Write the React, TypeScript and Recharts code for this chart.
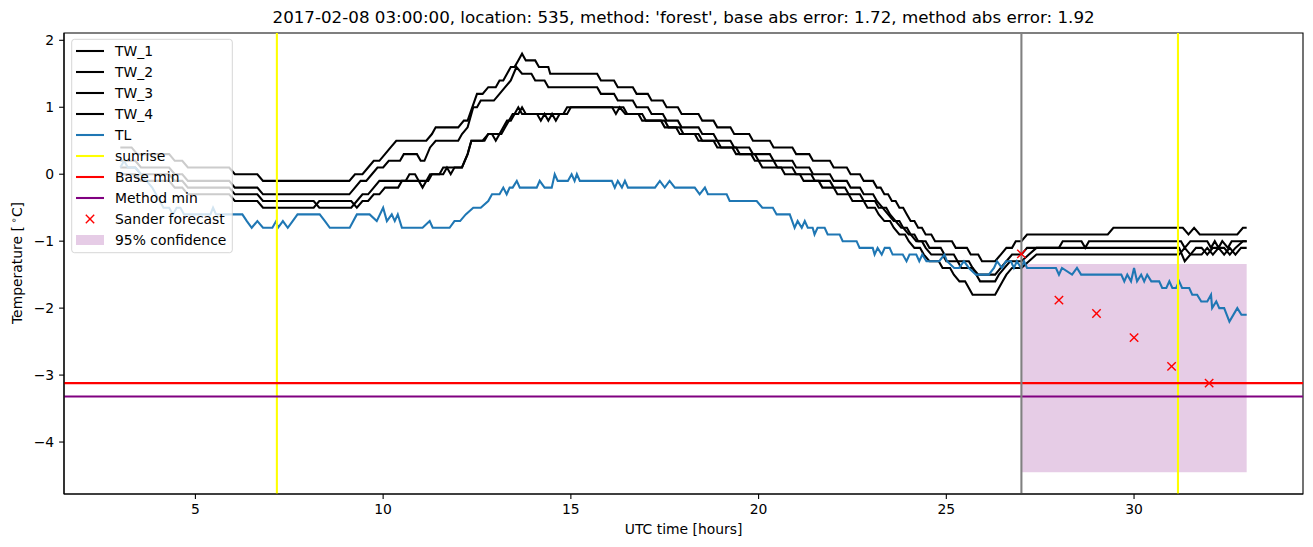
import { ComposedChart, Line, Scatter, XAxis, YAxis, ReferenceLine, ReferenceArea } from "recharts";

const FONT = "'DejaVu Sans', sans-serif";
const LW = 2.08;

// [hour, °C] readings, 10-minute sensor steps
const tw1: [number, number][] = [
  [3.0, 0.4], [3.3, 0.4], [3.45, 0.3], [4.3, 0.3], [4.45, 0.2], [4.65, 0.2], [4.8, 0.1], [5.9, 0.1], [6.05, 0.0], [6.65, 0.0],
  [6.8, -0.1], [9.1, -0.1], [9.25, 0.0], [9.45, 0.0], [9.6, 0.1], [9.75, 0.2], [9.9, 0.2], [10.05, 0.3], [10.2, 0.4], [10.35, 0.5],
  [11.15, 0.5], [11.3, 0.6], [11.4, 0.7], [12.0, 0.7], [12.15, 0.8], [12.25, 0.8], [12.5, 1.2], [12.65, 1.2], [12.8, 1.3], [13.0, 1.3],
  [13.1, 1.4], [13.2, 1.4], [13.3, 1.5], [13.4, 1.6], [13.5, 1.6], [13.6, 1.7], [13.7, 1.8], [13.8, 1.7], [14.05, 1.7], [14.15, 1.6],
  [14.4, 1.6], [14.45, 1.5], [15.7, 1.5], [15.8, 1.4], [16.15, 1.4], [16.25, 1.3], [16.65, 1.3], [16.75, 1.2], [17.05, 1.2], [17.15, 1.1],
  [17.45, 1.1], [17.55, 1.0], [17.85, 1.0], [17.95, 0.9], [18.4, 0.9], [18.5, 0.8], [18.8, 0.8], [18.9, 0.7], [19.25, 0.7], [19.35, 0.6],
  [19.75, 0.6], [19.85, 0.5], [20.3, 0.5], [20.4, 0.4], [20.9, 0.4], [21.0, 0.3], [21.35, 0.3], [21.45, 0.2], [21.9, 0.2], [22.0, 0.1],
  [22.35, 0.1], [22.45, 0.0], [22.7, 0.0], [22.8, -0.1], [23.05, -0.1], [23.15, -0.2], [23.25, -0.2], [23.35, -0.3], [23.45, -0.3], [23.55, -0.4],
  [23.65, -0.4], [23.75, -0.5], [23.85, -0.5], [23.95, -0.6], [24.05, -0.7], [24.15, -0.7], [24.25, -0.8], [24.35, -0.8], [24.45, -0.9], [24.6, -0.9],
  [24.7, -1.0], [25.15, -1.0], [25.25, -1.1], [25.55, -1.1], [25.65, -1.2], [25.85, -1.2], [25.95, -1.3], [26.3, -1.3], [26.45, -1.2], [26.6, -1.1],
  [26.75, -1.1], [26.85, -1.0], [27.0, -1.0], [27.15, -0.9], [29.3, -0.9], [29.45, -0.8], [31.3, -0.8], [31.45, -0.9], [31.6, -0.8], [31.75, -0.9],
  [32.75, -0.9], [32.9, -0.8], [33.0, -0.8],
];

const tw2: [number, number][] = [
  [3.0, 0.2], [3.4, 0.2], [3.55, 0.1], [4.3, 0.1], [4.45, 0.0], [4.65, 0.0], [4.8, -0.1], [5.9, -0.1], [6.05, -0.2], [6.65, -0.2],
  [6.8, -0.3], [9.1, -0.3], [9.25, -0.2], [9.4, -0.1], [9.55, -0.1], [9.7, 0.0], [9.85, 0.1], [10.0, 0.1], [10.15, 0.2], [10.45, 0.2],
  [10.55, 0.3], [10.9, 0.3], [11.0, 0.2], [11.1, 0.2], [11.25, 0.4], [11.4, 0.5], [12.0, 0.5], [12.1, 0.6], [12.25, 0.7], [12.4, 1.0],
  [12.5, 1.0], [12.6, 1.1], [12.95, 1.1], [13.1, 1.2], [13.25, 1.3], [13.4, 1.4], [13.55, 1.6], [13.7, 1.5], [13.95, 1.5], [14.05, 1.4],
  [14.3, 1.4], [14.4, 1.3], [15.7, 1.3], [15.8, 1.2], [16.15, 1.2], [16.25, 1.1], [16.65, 1.1], [16.75, 1.0], [17.05, 1.0], [17.15, 0.9],
  [17.45, 0.9], [17.55, 0.8], [17.85, 0.8], [17.95, 0.7], [18.4, 0.7], [18.5, 0.6], [18.8, 0.6], [18.9, 0.5], [19.25, 0.5], [19.35, 0.4],
  [19.75, 0.4], [19.85, 0.3], [20.3, 0.3], [20.4, 0.2], [20.9, 0.2], [21.0, 0.1], [21.35, 0.1], [21.45, 0.0], [21.9, 0.0], [22.0, -0.1],
  [22.35, -0.1], [22.45, -0.2], [22.7, -0.2], [22.8, -0.3], [23.05, -0.3], [23.15, -0.4], [23.3, -0.5], [23.45, -0.6], [23.6, -0.7], [23.75, -0.7],
  [23.85, -0.8], [24.0, -0.9], [24.15, -0.9], [24.25, -1.0], [24.45, -1.0], [24.55, -1.1], [24.85, -1.1], [24.95, -1.2], [25.2, -1.2], [25.3, -1.3],
  [25.6, -1.3], [25.7, -1.4], [25.85, -1.5], [26.3, -1.5], [26.45, -1.4], [26.6, -1.3], [26.75, -1.2], [27.0, -1.2], [27.15, -1.1], [28.0, -1.1],
  [28.1, -1.0], [28.6, -1.0], [28.7, -1.1], [28.8, -1.0], [31.25, -1.0], [31.35, -1.1], [31.5, -1.0], [31.95, -1.0], [32.05, -1.1], [32.15, -1.0],
  [32.25, -1.1], [32.35, -1.0], [32.5, -1.1], [32.6, -1.0], [33.0, -1.0],
];

const tw3: [number, number][] = [
  [3.0, 0.1], [3.4, 0.1], [3.55, 0.0], [4.3, 0.0], [4.45, -0.1], [4.65, -0.1], [4.8, -0.2], [5.9, -0.2], [6.05, -0.3], [6.65, -0.3],
  [6.8, -0.4], [8.15, -0.4], [8.3, -0.5], [9.15, -0.5], [9.3, -0.4], [9.45, -0.3], [9.6, -0.3], [9.75, -0.2], [9.9, -0.1], [10.6, -0.1],
  [10.7, 0.0], [10.85, 0.0], [10.95, -0.1], [11.05, -0.2], [11.15, -0.1], [11.25, 0.0], [11.5, 0.0], [11.6, 0.1], [12.1, 0.1], [12.25, 0.3],
  [12.35, 0.5], [12.65, 0.5], [12.8, 0.6], [12.9, 0.6], [13.0, 0.5], [13.1, 0.6], [13.2, 0.7], [13.3, 0.8], [13.4, 0.8], [13.5, 0.9],
  [13.6, 1.0], [13.7, 0.9], [14.9, 0.9], [15.0, 1.0], [16.4, 1.0], [16.5, 0.9], [16.9, 0.9], [17.0, 0.8], [17.4, 0.8], [17.5, 0.7],
  [17.9, 0.7], [18.0, 0.6], [18.4, 0.6], [18.5, 0.5], [18.9, 0.5], [19.0, 0.4], [19.4, 0.4], [19.5, 0.3], [19.9, 0.3], [20.0, 0.2],
  [20.4, 0.2], [20.5, 0.1], [20.9, 0.1], [21.0, 0.0], [21.4, 0.0], [21.5, -0.1], [21.9, -0.1], [22.0, -0.2], [22.3, -0.2], [22.4, -0.3],
  [22.7, -0.3], [22.8, -0.4], [23.1, -0.4], [23.2, -0.5], [23.4, -0.5], [23.5, -0.6], [23.65, -0.7], [23.8, -0.8], [23.95, -0.8], [24.05, -0.9],
  [24.2, -1.0], [24.35, -1.0], [24.45, -1.1], [24.6, -1.2], [24.9, -1.2], [25.0, -1.3], [25.3, -1.3], [25.4, -1.4], [25.7, -1.4], [25.8, -1.5],
  [25.9, -1.6], [26.3, -1.6], [26.4, -1.5], [26.55, -1.4], [26.7, -1.3], [27.0, -1.3], [27.2, -1.2], [27.4, -1.1], [31.2, -1.1], [31.35, -1.3],
  [31.5, -1.2], [31.65, -1.1], [31.8, -1.1], [31.95, -1.2], [32.1, -1.1], [32.4, -1.1], [32.55, -1.2], [32.7, -1.1], [32.9, -1.0], [33.0, -1.0],
];

const tw4: [number, number][] = [
  [3.0, 0.0], [3.4, 0.0], [3.55, -0.1], [4.3, -0.1], [4.45, -0.2], [4.65, -0.2], [4.8, -0.3], [5.9, -0.3], [6.05, -0.4], [6.65, -0.4],
  [6.8, -0.5], [8.15, -0.5], [8.3, -0.4], [9.15, -0.4], [9.3, -0.5], [9.45, -0.4], [9.6, -0.4], [9.75, -0.3], [9.9, -0.3], [10.05, -0.2],
  [10.4, -0.2], [10.5, -0.1], [11.2, -0.1], [11.3, 0.0], [11.6, 0.0], [11.7, 0.1], [11.8, 0.0], [11.9, 0.1], [12.1, 0.1], [12.25, 0.3],
  [12.35, 0.5], [12.7, 0.5], [12.8, 0.6], [13.15, 0.6], [13.25, 0.7], [13.35, 0.8], [13.45, 0.9], [13.6, 0.9], [13.7, 1.0], [13.8, 0.9],
  [14.1, 0.9], [14.2, 0.8], [14.3, 0.9], [14.4, 0.8], [14.5, 0.9], [14.6, 0.8], [14.7, 0.9], [14.8, 0.9], [14.9, 1.0], [16.1, 1.0],
  [16.2, 0.9], [16.3, 1.0], [16.45, 0.9], [16.8, 0.9], [16.9, 0.8], [17.5, 0.8], [17.6, 0.7], [17.8, 0.7], [17.9, 0.6], [18.3, 0.6],
  [18.4, 0.5], [18.8, 0.5], [18.9, 0.4], [19.3, 0.4], [19.4, 0.3], [19.8, 0.3], [19.9, 0.2], [20.0, 0.2], [20.1, 0.1], [20.6, 0.1],
  [20.7, 0.0], [21.1, 0.0], [21.2, -0.1], [21.6, -0.1], [21.7, -0.2], [22.0, -0.2], [22.1, -0.3], [22.4, -0.3], [22.5, -0.4], [22.8, -0.4],
  [22.9, -0.5], [23.1, -0.5], [23.2, -0.6], [23.35, -0.7], [23.5, -0.7], [23.6, -0.8], [23.75, -0.9], [23.9, -0.9], [24.0, -1.0], [24.15, -1.1],
  [24.3, -1.1], [24.4, -1.2], [24.55, -1.3], [24.8, -1.3], [24.9, -1.4], [25.1, -1.4], [25.2, -1.5], [25.35, -1.6], [25.5, -1.6], [25.6, -1.7],
  [25.7, -1.8], [26.3, -1.8], [26.4, -1.7], [26.5, -1.6], [26.6, -1.5], [26.75, -1.4], [27.0, -1.4], [27.2, -1.3], [27.4, -1.2], [31.2, -1.2],
  [31.35, -1.1], [31.5, -1.2], [31.8, -1.2], [31.95, -1.1], [32.1, -1.2], [32.25, -1.1], [32.4, -1.2], [32.55, -1.1], [32.7, -1.2], [32.85, -1.1],
  [33.0, -1.1],
];

const tl: [number, number][] = [
  [3.0, 0.1], [3.1, 0.2], [3.2, 0.1], [3.4, 0.1], [3.7, -0.1], [3.85, -0.2], [4.05, -0.4], [4.15, -0.5], [4.3, -0.5], [4.4, -0.6],
  [4.5, -0.5], [4.6, -0.5], [4.7, -0.6], [5.4, -0.6], [5.47, -0.5], [5.55, -0.6], [6.25, -0.6], [6.37, -0.7], [6.5, -0.8], [6.65, -0.7],
  [6.8, -0.8], [7.05, -0.8], [7.15, -0.7], [7.2, -0.8], [7.33, -0.7], [7.46, -0.8], [7.59, -0.7], [7.72, -0.6], [8.31, -0.6], [8.45, -0.7],
  [8.58, -0.8], [9.11, -0.8], [9.3, -0.6], [9.64, -0.6], [9.83, -0.7], [10.0, -0.5], [10.1, -0.7], [10.23, -0.6], [10.31, -0.7], [10.39, -0.6],
  [10.5, -0.8], [11.05, -0.8], [11.24, -0.7], [11.32, -0.8], [11.77, -0.8], [11.9, -0.7], [12.05, -0.7], [12.2, -0.6], [12.4, -0.5], [12.6, -0.5],
  [12.8, -0.4], [12.9, -0.3], [13.1, -0.3], [13.2, -0.2], [13.29, -0.3], [13.37, -0.2], [13.45, -0.2], [13.56, -0.1], [13.64, -0.2], [14.09, -0.2],
  [14.17, -0.1], [14.3, -0.2], [14.49, -0.2], [14.57, 0.0], [14.65, -0.1], [14.92, -0.1], [15.02, 0.0], [15.1, -0.1], [15.16, 0.0], [15.24, -0.1],
  [16.09, -0.1], [16.17, -0.2], [16.25, -0.1], [16.36, -0.2], [16.44, -0.1], [16.52, -0.2], [17.24, -0.2], [17.37, -0.1], [17.5, -0.2], [17.63, -0.1],
  [17.77, -0.2], [18.3, -0.2], [18.43, -0.3], [18.57, -0.2], [18.65, -0.3], [19.15, -0.3], [19.23, -0.4], [19.95, -0.4], [20.1, -0.5], [20.38, -0.5],
  [20.48, -0.6], [20.83, -0.6], [20.96, -0.8], [21.04, -0.7], [21.15, -0.8], [21.23, -0.7], [21.31, -0.8], [21.44, -0.8], [21.49, -0.9], [21.57, -0.8],
  [21.76, -0.8], [21.84, -0.9], [22.16, -0.9], [22.24, -1.0], [22.61, -1.0], [22.69, -1.1], [23.04, -1.1], [23.09, -1.2], [23.17, -1.1], [23.28, -1.2],
  [23.36, -1.1], [23.49, -1.1], [23.57, -1.2], [23.84, -1.2], [23.94, -1.3], [24.02, -1.2], [24.2, -1.2], [24.28, -1.3], [24.36, -1.2], [24.47, -1.3],
  [24.81, -1.3], [24.95, -1.2], [25.02, -1.3], [25.21, -1.4], [25.34, -1.4], [25.47, -1.3], [25.6, -1.4], [25.79, -1.5], [26.13, -1.5], [26.27, -1.4],
  [26.35, -1.3], [26.48, -1.4], [26.59, -1.3], [26.72, -1.3], [26.8, -1.4], [26.88, -1.3], [26.99, -1.4], [27.07, -1.3], [27.15, -1.4], [27.92, -1.4],
  [28.0, -1.5], [28.08, -1.4], [28.35, -1.5], [28.48, -1.4], [28.59, -1.5], [29.66, -1.5], [29.74, -1.6], [29.82, -1.5], [29.92, -1.6], [30.0, -1.4],
  [30.08, -1.6], [30.19, -1.5], [30.27, -1.6], [30.35, -1.5], [30.46, -1.6], [30.67, -1.6], [30.75, -1.7], [30.86, -1.7], [30.94, -1.6], [31.02, -1.7],
  [31.12, -1.7], [31.2, -1.6], [31.28, -1.7], [31.47, -1.7], [31.55, -1.8], [31.68, -1.8], [31.79, -1.9], [31.95, -1.9], [32.05, -1.8], [32.08, -2.0],
  [32.19, -1.9], [32.27, -2.0], [32.4, -2.0], [32.54, -2.2], [32.75, -2.0], [32.86, -2.1], [33.0, -2.1],
];

const sanderHours = [27, 28, 29, 30, 31, 32];
const sanderValues = [-1.19, -1.88, -2.08, -2.44, -2.87, -3.12];

const sunriseHours = [7.17, 31.17];
const forecastHour = 27;
const baseMin = -3.12;
const methodMin = -3.32;
const confidenceHours = [27, 33];
const confidenceRange = [-4.45, -1.34];

const xTicks = [5, 10, 15, 20, 25, 30];
const yTicks = [-4, -3, -2, -1, 0, 1, 2];
const xDomain = [1.5, 34.5];
const yDomain = [-4.776, 2.109];

const toPoints = (rows: [number, number][]) => rows.map(([h, v]) => ({ h, v }));
const sander = sanderHours.map((h, i) => ({ h, v: sanderValues[i] }));

const twSeries = [tw1, tw2, tw3, tw4];

const legendItems = [
  { label: "TW_1", kind: "line", color: "#000000" },
  { label: "TW_2", kind: "line", color: "#000000" },
  { label: "TW_3", kind: "line", color: "#000000" },
  { label: "TW_4", kind: "line", color: "#000000" },
  { label: "TL", kind: "line", color: "#1f77b4" },
  { label: "sunrise", kind: "line", color: "#ffff00" },
  { label: "Base min", kind: "line", color: "#ff0000" },
  { label: "Method min", kind: "line", color: "#800080" },
  { label: "Sander forecast", kind: "cross", color: "#ff0000" },
  { label: "95% confidence", kind: "patch", color: "#800080" },
];

function Cross(props: any) {
  const { cx, cy } = props;
  const r = 4.2;
  return (
    <g stroke="#ff0000" strokeWidth={1.4}>
      <line x1={cx - r} y1={cy - r} x2={cx + r} y2={cy + r} />
      <line x1={cx - r} y1={cy + r} x2={cx + r} y2={cy - r} />
    </g>
  );
}

const minus = (v: number) => String(v).replace("-", "\u2212");

function Overlay() {
  return (
    <svg
      width={1313}
      height={547}
      style={{ position: "absolute", left: 0, top: 0, pointerEvents: "none" }}
      fontFamily={FONT}
    >
      <text x={683.6} y={23} textAnchor="middle" fontSize={16.7} fill="#000">
        2017-02-08 03:00:00, location: 535, method: 'forest', base abs error: 1.72, method abs error: 1.92
      </text>
      <text x={683.6} y={534} textAnchor="middle" fontSize={13.9} fill="#000">
        UTC time [hours]
      </text>
      <text transform="translate(22,263) rotate(-90)" textAnchor="middle" fontSize={13.9} fill="#000">
        Temperature [<tspan dx={3} dy={-5} fontSize={9.7}>∘</tspan>
        <tspan dy={5}>C]</tspan>
      </text>

      <rect x={71.7} y={39.3} width={160.6} height={213.4} rx={2.8} fill="#ffffff" fillOpacity={0.8} stroke="#cccccc" strokeOpacity={0.8} />
      {legendItems.map((item, i) => {
        const cy = 51 + i * 21;
        return (
          <g key={item.label}>
            {item.kind === "line" && <line x1={76} x2={104} y1={cy} y2={cy} stroke={item.color} strokeWidth={LW} />}
            {item.kind === "cross" && <Cross cx={90} cy={cy} />}
            {item.kind === "patch" && <rect x={76} y={cy - 5} width={28} height={10} fill={item.color} fillOpacity={0.2} />}
            <text x={115} y={cy + 5} fontSize={13.9} fill="#000">
              {item.label}
            </text>
          </g>
        );
      })}
    </svg>
  );
}

export default function App() {
  return (
    <div style={{ position: "absolute", left: 0, top: 0, width: 1313, height: 547, fontFamily: FONT, background: "#fff" }}>
      <ComposedChart width={1313} height={547} margin={{ top: 33, right: 10, bottom: 0, left: 0 }}>
        <XAxis
          type="number"
          dataKey="h"
          domain={xDomain}
          ticks={xTicks}
          interval={0}
          allowDataOverflow
          height={53}
          tickSize={4.9}
          tickMargin={4.9}
          tick={{ fontSize: 13.9, fill: "#000", fontFamily: FONT }}
          tickLine={{ stroke: "#000", strokeWidth: 1.1 }}
          axisLine={{ stroke: "#000", strokeWidth: 1.1 }}
        />
        <YAxis
          type="number"
          dataKey="v"
          domain={yDomain}
          ticks={yTicks}
          interval={0}
          allowDataOverflow
          width={64}
          tickSize={4.9}
          tickMargin={4.9}
          tickFormatter={minus}
          tick={{ fontSize: 13.9, fill: "#000", fontFamily: FONT }}
          tickLine={{ stroke: "#000", strokeWidth: 1.1 }}
          axisLine={{ stroke: "#000", strokeWidth: 1.1 }}
        />
        <ReferenceArea
          x1={confidenceHours[0]}
          x2={confidenceHours[1]}
          y1={confidenceRange[0]}
          y2={confidenceRange[1]}
          fill="#800080"
          fillOpacity={0.2}
          stroke="none"
        />
        {twSeries.map((s, i) => (
          <Line
            key={`tw${i}`}
            data={toPoints(s)}
            dataKey="v"
            type="linear"
            stroke="#000"
            strokeWidth={LW}
            dot={false}
            activeDot={false}
            isAnimationActive={false}
          />
        ))}
        <Line
          data={toPoints(tl)}
          dataKey="v"
          type="linear"
          stroke="#1f77b4"
          strokeWidth={LW}
          dot={false}
          activeDot={false}
          isAnimationActive={false}
        />
        {sunriseHours.map((h) => (
          <ReferenceLine key={h} x={h} stroke="#ffff00" strokeWidth={LW} />
        ))}
        <ReferenceLine y={baseMin} stroke="#ff0000" strokeWidth={LW} />
        <ReferenceLine y={methodMin} stroke="#800080" strokeWidth={LW} />
        <ReferenceLine x={forecastHour} stroke="#808080" strokeWidth={LW} />
        <Scatter data={sander} dataKey="v" shape={<Cross />} isAnimationActive={false} />
        <ReferenceArea
          x1={xDomain[0]}
          x2={xDomain[1]}
          y1={yDomain[0]}
          y2={yDomain[1]}
          fill="none"
          stroke="#000"
          strokeWidth={1.1}
        />
      </ComposedChart>
      <Overlay />
    </div>
  );
}
